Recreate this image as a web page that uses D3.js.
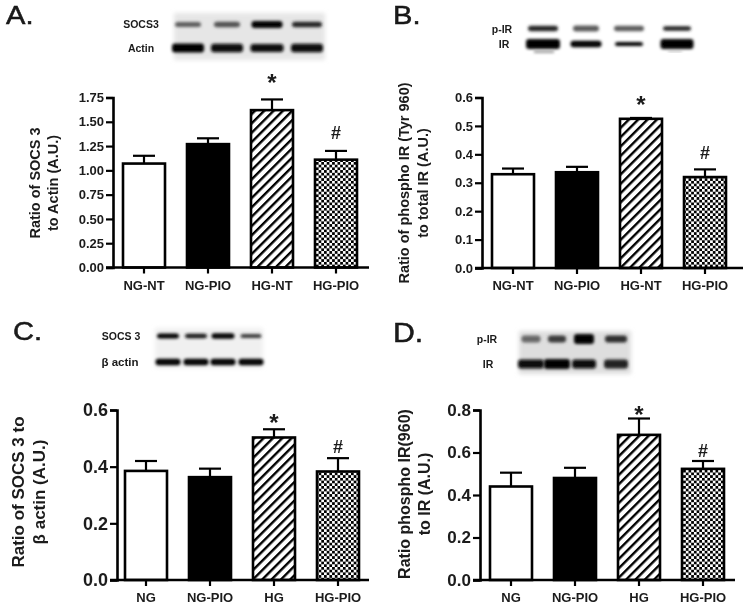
<!DOCTYPE html>
<html>
<head>
<meta charset="utf-8">
<script src="https://d3js.org/d3.v7.min.js"></script>
<style>
  html, body { margin: 0; padding: 0; background: #fff; }
  text { font-family: "Liberation Sans", Arial, sans-serif; fill: #1a1a1a; }
</style>
</head>
<body>
<svg id="fig" width="745" height="609"></svg>
<script>
// values
var groupsAB = ['NG-NT', 'NG-PIO', 'HG-NT', 'HG-PIO'];
var groupsCD = ['NG', 'NG-PIO', 'HG', 'HG-PIO'];

var meanA = [1.07, 1.27, 1.62, 1.11];
var topA  = [1.15, 1.33, 1.73, 1.20];
var meanB = [0.33, 0.337, 0.525, 0.32];
var topB  = [0.35, 0.356, 0.528, 0.347];
var meanC = [0.385, 0.363, 0.503, 0.383];
var topC  = [0.42, 0.393, 0.532, 0.43];
var meanD = [0.44, 0.48, 0.683, 0.523];
var topD  = [0.505, 0.528, 0.76, 0.56];

var ticksA = [0, 0.25, 0.5, 0.75, 1, 1.25, 1.5, 1.75];
var ticksB = [0, 0.1, 0.2, 0.3, 0.4, 0.5, 0.6];
var ticksC = [0, 0.2, 0.4, 0.6];
var ticksD = [0, 0.2, 0.4, 0.6, 0.8];

var marks = ['', '', '*', '#'];

// band darkness of the blots, 0 to 1, one row per antibody
var blotA1 = [0.6, 0.65, 1, 0.85];
var blotA2 = [1, 0.95, 0.95, 0.95];
var blotB1 = [0.85, 0.6, 0.6, 0.85];
var blotB2 = [1, 1, 1, 1];
var blotC1 = [1, 0.9, 1, 0.75];
var blotC2 = [1, 1, 1, 1];
var blotD1 = [0.55, 0.75, 1, 0.8];
var blotD2 = [0.95, 1, 0.95, 0.85];

var svg = d3.select('#fig');
var defs = svg.append('defs');

// the scan is a bit soft
defs.append('filter').attr('id', 'soft')
  .attr('x', 0).attr('y', 0).attr('width', 1).attr('height', 1)
  .append('feGaussianBlur').attr('stdDeviation', 0.45);
defs.append('filter').attr('id', 'smear')
  .attr('x', '-30%').attr('y', '-100%').attr('width', '160%').attr('height', '300%')
  .append('feGaussianBlur').attr('stdDeviation', 1.6);
defs.append('filter').attr('id', 'smearBg')
  .attr('x', '-10%').attr('y', '-20%').attr('width', '120%').attr('height', '140%')
  .append('feGaussianBlur').attr('stdDeviation', 2);

var hatch = defs.append('pattern').attr('id', 'hatch')
  .attr('patternUnits', 'userSpaceOnUse')
  .attr('width', 6.6).attr('height', 6.6)
  .attr('patternTransform', 'rotate(-45)');
hatch.append('rect').attr('width', 6.6).attr('height', 6.6).attr('fill', '#fff');
hatch.append('rect').attr('width', 6.6).attr('height', 2.4).attr('fill', '#000');

var check = defs.append('pattern').attr('id', 'check')
  .attr('patternUnits', 'userSpaceOnUse')
  .attr('width', 5.4).attr('height', 5.4);
check.append('rect').attr('width', 5.4).attr('height', 5.4).attr('fill', '#000');
check.append('rect').attr('width', 2.7).attr('height', 2.7).attr('fill', '#fff');
check.append('rect').attr('x', 2.7).attr('y', 2.7).attr('width', 2.7).attr('height', 2.7).attr('fill', '#fff');

var fills = ['#fff', '#000', 'url(#hatch)', 'url(#check)'];

var root = svg.append('g').attr('filter', 'url(#soft)');
root.append('rect').attr('width', 745).attr('height', 609).attr('fill', '#fff');

function drawPanel(p) {
  var g = root.append('g');

  var y = d3.scaleLinear().domain(p.yDomain).range([p.yBottom, p.yTop]);
  var x = d3.scaleBand().domain(p.groups).range(p.xRange);
  var barW = 42;

  var rows = p.groups.map(function(name, i) {
    return { name: name, mean: p.mean[i], top: p.top[i], fill: fills[i], mark: marks[i] };
  });
  var mid = function(d) { return x(d.name) + x.bandwidth() / 2; };

  // error bars go under the bars
  g.selectAll('.stem').data(rows).enter().append('line')
    .attr('x1', mid).attr('x2', mid)
    .attr('y1', function(d) { return y(d.mean); })
    .attr('y2', function(d) { return y(d.top); })
    .attr('stroke', '#000').attr('stroke-width', 2.2);
  g.selectAll('.cap').data(rows).enter().append('line')
    .attr('x1', function(d) { return mid(d) - 11; })
    .attr('x2', function(d) { return mid(d) + 11; })
    .attr('y1', function(d) { return y(d.top); })
    .attr('y2', function(d) { return y(d.top); })
    .attr('stroke', '#000').attr('stroke-width', 2.2);

  g.selectAll('.bar').data(rows).enter().append('rect')
    .attr('x', function(d) { return mid(d) - barW / 2; })
    .attr('width', barW)
    .attr('y', function(d) { return y(d.mean); })
    .attr('height', function(d) { return y(0) - y(d.mean); })
    .attr('fill', function(d) { return d.fill; })
    .attr('stroke', '#000').attr('stroke-width', 2.6);

  // y axis
  var yAxis = g.append('g').attr('transform', 'translate(' + p.axisX + ',0)')
    .call(d3.axisLeft(y).tickValues(p.ticks).tickFormat(d3.format(p.fmt)).tickSize(7).tickPadding(2));
  yAxis.selectAll('line').attr('stroke', '#000').attr('stroke-width', 2.2);
  yAxis.select('.domain').attr('stroke', '#000').attr('stroke-width', 2.6);
  yAxis.selectAll('text').attr('font-size', p.yFont).attr('font-weight', 'bold').attr('fill', '#1a1a1a');

  // x axis
  var xAxis = g.append('g').attr('transform', 'translate(0,' + p.yBottom + ')')
    .call(d3.axisBottom(x).tickSize(6).tickSizeOuter(0).tickPadding(7));
  xAxis.select('.domain').remove();
  xAxis.selectAll('line').attr('stroke', '#000').attr('stroke-width', 2.2);
  xAxis.selectAll('text').attr('font-size', 13).attr('font-weight', 'bold').attr('fill', '#1a1a1a');
  g.append('line')
    .attr('x1', p.axisX - 7).attr('x2', p.axisEnd)
    .attr('y1', p.yBottom).attr('y2', p.yBottom)
    .attr('stroke', '#000').attr('stroke-width', 2.6);

  // significance marks
  g.selectAll('.mark').data(rows.filter(function(d) { return d.mark; })).enter().append('text')
    .attr('x', mid)
    .attr('y', function(d) { return y(d.top) + (d.mark == '*' ? p.starDy : p.hashDy); })
    .attr('text-anchor', 'middle')
    .attr('font-weight', 'bold')
    .attr('font-size', function(d) { return d.mark == '*' ? 24 : 18; })
    .text(function(d) { return d.mark; });

  // y title, two lines
  p.title.forEach(function(t) {
    g.append('text')
      .attr('transform', 'translate(' + t.x + ',' + t.y + ') rotate(-90)')
      .attr('text-anchor', 'middle')
      .attr('font-size', p.titleFont)
      .attr('font-weight', 'bold')
      .attr('fill', '#2a2a2a')
      .text(t.text);
  });

  // panel letter, the original face is a bit wider than this one
  g.append('text')
    .attr('transform', 'translate(' + p.letter[0] + ',' + p.letter[1] + ') scale(1.12,1)')
    .attr('font-size', p.letter[2])
    .attr('fill', '#111')
    .attr('stroke', '#111').attr('stroke-width', 0.5)
    .text(p.name);

  drawBlot(g, p.blot);
}

function drawBlot(g, b) {
  if (b.bg) {
    g.append('rect')
      .attr('x', b.bg[0]).attr('y', b.bg[1]).attr('width', b.bg[2]).attr('height', b.bg[3])
      .attr('fill', b.bgColor)
      .attr('filter', 'url(#smearBg)');
  }
  var grey = d3.scaleLinear().domain([0, 1]).range(['#e6e6e6', '#000']);
  b.rows.forEach(function(r) {
    g.selectAll(null).data(r.values).enter().append('rect')
      .attr('x', function(d, i) { return b.xs[i] - r.w[i] / 2; })
      .attr('y', function(d, i) { return r.y - r.h[i] / 2; })
      .attr('width', function(d, i) { return r.w[i]; })
      .attr('height', function(d, i) { return r.h[i]; })
      .attr('rx', 3)
      .attr('fill', function(d) { return grey(d); })
      .attr('filter', 'url(#smear)');
    g.append('text')
      .attr('x', r.labelX).attr('y', r.y + r.labelDy)
      .attr('text-anchor', 'middle')
      .attr('font-size', r.labelSize || 10.5)
      .attr('font-weight', 'bold')
      .text(r.label);
  });
  (b.smudge || []).forEach(function(s) {
    g.append('rect')
      .attr('x', s[0]).attr('y', s[1]).attr('width', s[2]).attr('height', s[3])
      .attr('fill', '#9a9a9a')
      .attr('filter', 'url(#smear)');
  });
}

drawPanel({
  name: 'A.', letter: [6, 24, 26],
  groups: groupsAB, mean: meanA, top: topA, ticks: ticksA, fmt: '.2f',
  yDomain: [0, 1.75], yBottom: 267.5, yTop: 97.5,
  axisX: 113, axisEnd: 369, xRange: [112, 368],
  yFont: 13, titleFont: 14.5, starDy: -8, hashDy: -11.5,
  title: [{ text: 'Ratio of SOCS 3', x: 40, y: 183 }, { text: 'to Actin (A.U.)', x: 58, y: 183 }],
  blot: {
    bg: [174, 13, 151, 47], bgColor: '#e6e6e6',
    xs: [188, 227, 267, 307],
    rows: [
      { label: 'SOCS3', labelX: 141, labelDy: 3.5, y: 24.5, values: blotA1, w: [26, 26, 31, 30], h: [5, 5.5, 7, 5.5] },
      { label: 'Actin', labelX: 141, labelDy: 3.5, y: 48, values: blotA2, w: [32, 32, 33, 32], h: [9, 8.5, 8, 8.5] }
    ]
  }
});

drawPanel({
  name: 'B.', letter: [393, 24, 26],
  groups: groupsAB, mean: meanB, top: topB, ticks: ticksB, fmt: '.1f',
  yDomain: [0, 0.6], yBottom: 268, yTop: 97.5,
  axisX: 482, axisEnd: 743, xRange: [481, 737],
  yFont: 13, titleFont: 14.5, starDy: -4.5, hashDy: -10,
  title: [{ text: 'Ratio of phospho IR (Tyr 960)', x: 409, y: 183 }, { text: 'to total IR (A.U.)', x: 428, y: 183 }],
  blot: {
    xs: [543, 586, 629, 677],
    rows: [
      { label: 'p-IR', labelX: 502, labelDy: 4, y: 28.5, values: blotB1, w: [30, 26, 30, 28], h: [5.5, 6, 5.5, 4.5] },
      { label: 'IR', labelX: 504, labelDy: 4, y: 44, values: blotB2, w: [34, 31, 28, 33], h: [10, 6.5, 4, 10] }
    ],
    smudge: [[534, 50.5, 20, 2.5], [668, 51, 14, 1]]
  }
});

drawPanel({
  name: 'C.', letter: [13, 340, 26],
  groups: groupsCD, mean: meanC, top: topC, ticks: ticksC, fmt: '.1f',
  yDomain: [0, 0.6], yBottom: 580, yTop: 410,
  axisX: 117, axisEnd: 369, xRange: [114, 370],
  yFont: 18, titleFont: 17, starDy: 1.5, hashDy: -5.5,
  title: [{ text: 'Ratio of SOCS 3 to', x: 24, y: 492 }, { text: '\u03b2 actin  (A.U.)', x: 45, y: 492 }],
  blot: {
    bg: [155, 328, 108, 40], bgColor: '#f0f0f0',
    xs: [168, 196, 223, 251],
    rows: [
      { label: 'SOCS 3', labelX: 121, labelDy: 3.5, y: 336, values: blotC1, w: [22, 22, 23, 21], h: [5, 4.5, 5.5, 4] },
      { label: '\u03b2 actin', labelX: 120, labelDy: 4, y: 362, values: blotC2, w: [25, 25, 25, 25], h: [6.5, 6.5, 6.5, 6.5], labelSize: 11.5 }
    ]
  }
});

drawPanel({
  name: 'D.', letter: [393, 342, 27],
  groups: groupsCD, mean: meanD, top: topD, ticks: ticksD, fmt: '.1f',
  yDomain: [0, 0.8], yBottom: 580, yTop: 410,
  axisX: 480, axisEnd: 735, xRange: [479, 735],
  yFont: 17, titleFont: 16, starDy: 4.5, hashDy: -4,
  title: [{ text: 'Ratio phospho IR(960)', x: 410, y: 494 }, { text: 'to IR  (A.U.)', x: 430, y: 494 }],
  blot: {
    bg: [519, 331, 112, 43], bgColor: '#dedede',
    xs: [531, 557, 584, 616],
    rows: [
      { label: 'p-IR', labelX: 487, labelDy: 3.5, y: 339, values: blotD1, w: [19, 18, 20, 22], h: [7, 7, 10, 7] },
      { label: 'IR', labelX: 488, labelDy: 3.5, y: 364, values: blotD2, w: [26, 26, 24, 24], h: [9, 10, 9, 9] }
    ]
  }
});
</script>
</body>
</html>
